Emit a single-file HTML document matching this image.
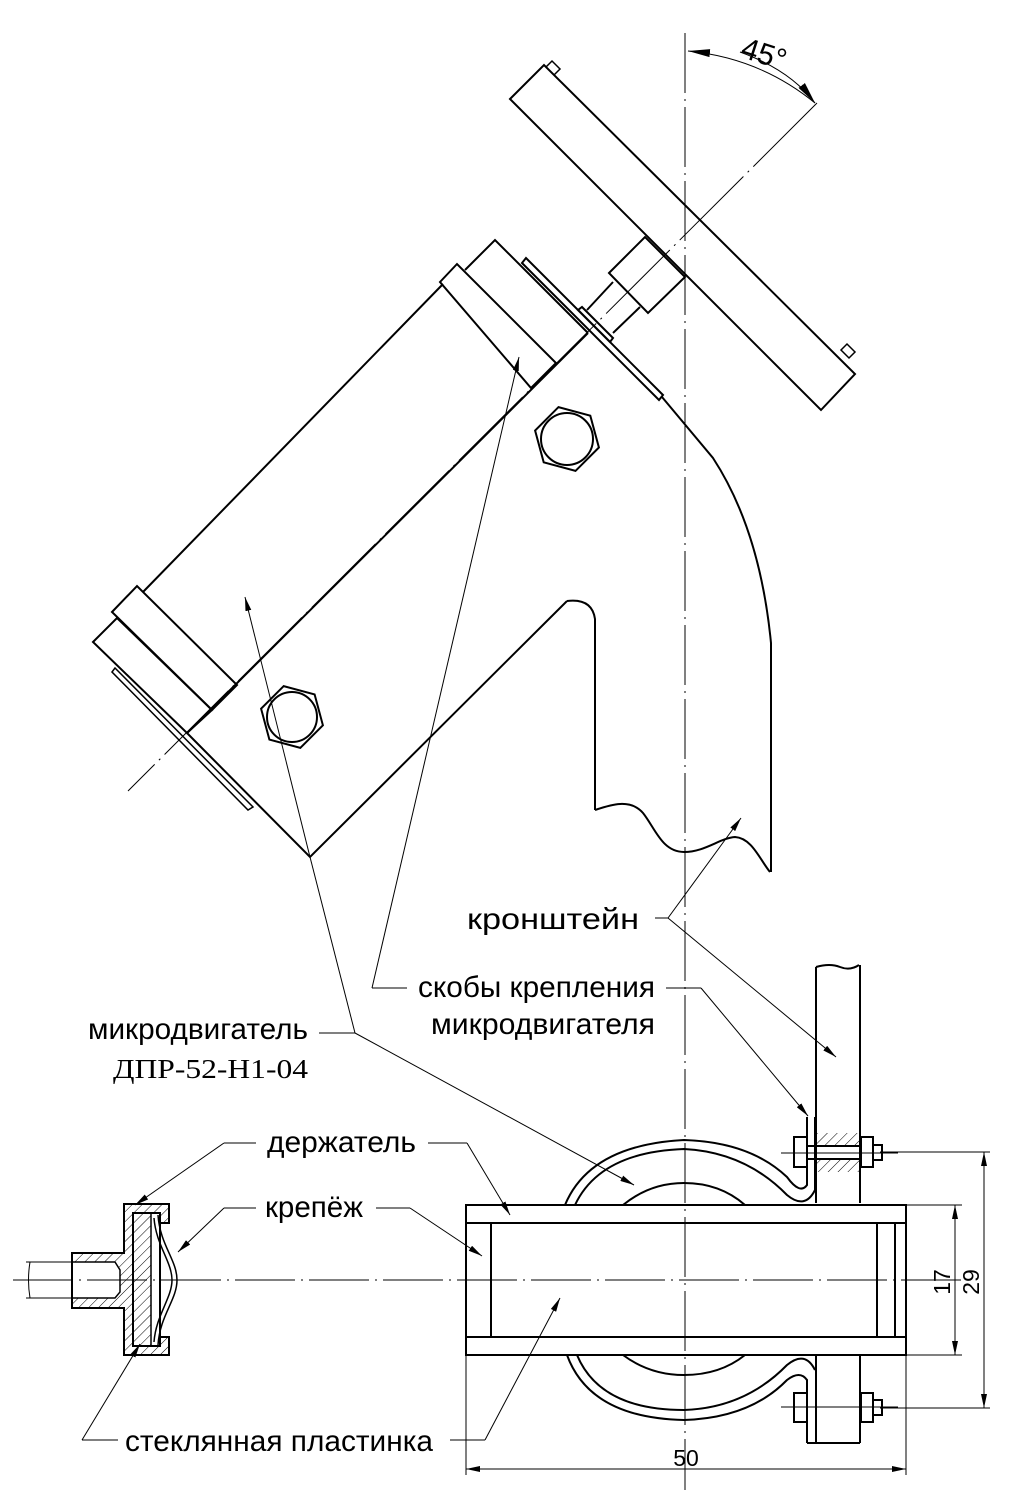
<!DOCTYPE html>
<html><head><meta charset="utf-8"><style>
html,body{margin:0;padding:0;background:#fff}
svg{display:block}
text{font-family:"Liberation Sans",sans-serif;fill:#000}
</style></head><body>
<svg width="1015" height="1501" viewBox="0 0 1015 1501" xmlns="http://www.w3.org/2000/svg">
<defs>
<marker id="ar" viewBox="0 0 14 6" refX="14" refY="3" markerWidth="14" markerHeight="6" markerUnits="userSpaceOnUse" orient="auto"><path d="M0,0 L14,3 L0,6 Z" fill="#000"/></marker>
<marker id="ar2" viewBox="0 0 22 8" refX="22" refY="4" markerWidth="22" markerHeight="8" markerUnits="userSpaceOnUse" orient="auto"><path d="M0,0 L22,4 L0,8 Z" fill="#000"/></marker>
<pattern id="h" patternUnits="userSpaceOnUse" width="7" height="7" patternTransform="rotate(45)"><line x1="0" y1="0" x2="0" y2="7" stroke="#000" stroke-width="1"/></pattern>
</defs>
<g fill="none" stroke="#000" stroke-linejoin="miter">
<line x1="685" y1="33" x2="685" y2="1490" stroke-width="1" stroke-dasharray="60,6,2,6"/>
<line x1="13" y1="1280" x2="965" y2="1280" stroke-width="1" stroke-dasharray="60,6,2,6"/>
<line x1="817" y1="103" x2="128" y2="791" stroke-width="1" stroke-dasharray="90,6,2,6"/>
<path d="M815,103 Q760,58 688,51" stroke-width="1" marker-end="url(#ar2)"/>
<path d="M740,52 Q790,70 815,103" stroke-width="1" marker-end="url(#ar2)"/>

<g stroke-width="2">
<polygon points="510,99 544,65 855,374 821,410"/>
<polygon points="546,67 552,61 560,69 554,75" stroke-width="1.5"/>
<polygon points="841,350 847,344 855,352 849,358" stroke-width="1.5"/>
<polygon points="609,273 645,237 685,277 648,313"/>
<polyline points="587,310 613,282"/>
<polyline points="613,333 640,307"/>
<polygon points="578,310 582,307 613,338 610,342"/>
<polygon points="522,263 526,258 663,395 659,400"/>
<polyline points="465,270 495,240 588,333"/>
<polygon points="440,282 457,264 556,363 531,388"/>
<line x1="443" y1="284" x2="143" y2="592"/>
<polygon points="112,612 137,586 237,685 212,710"/>
<polygon points="93,642 117,618 212,710 187,733"/>
<polygon points="112,672 115,668 253,807 248,810" stroke-width="1.5"/>
<line x1="588" y1="333" x2="187" y2="733"/>
<polyline points="187,733 310,857 567,601"/>
<path d="M567,601 Q592,598 595,619 L595,810"/>
<path d="M595,810 C610,805 630,798 643,813 C655,828 662,852 684,852 C705,852 720,838 735,837 C752,838 760,860 770,872"/>
<path d="M662,397 L713,458 Q760,530 771,643 L771,872"/>
<polygon points="598.9,447.5 575.5,470.9 543.7,462.3 535.1,430.5 558.5,407.1 590.3,415.7"/>
<circle cx="567" cy="439" r="26"/>
<polygon points="322.9,725.3 300.3,747.9 269.4,739.6 261.1,708.7 283.7,686.1 314.6,694.4"/>
<circle cx="292" cy="717" r="25"/>
</g>

<g stroke-width="1">
<line x1="310" y1="857" x2="245" y2="597" marker-end="url(#ar)"/>
<line x1="355" y1="1033" x2="310" y2="857"/>
<line x1="372" y1="988" x2="519" y2="357" marker-end="url(#ar)"/>
<line x1="372" y1="988" x2="407" y2="988"/>
<line x1="319" y1="1033" x2="355" y2="1033"/>
<line x1="355" y1="1033" x2="634" y2="1185" marker-end="url(#ar)"/>
<line x1="655" y1="918" x2="668" y2="918"/>
<line x1="668" y1="918" x2="741" y2="818" marker-end="url(#ar)"/>
<line x1="668" y1="918" x2="836" y2="1057" marker-end="url(#ar)"/>
<line x1="666" y1="988" x2="701" y2="988"/>
<line x1="701" y1="988" x2="808" y2="1116" marker-end="url(#ar)"/>
<line x1="224" y1="1143" x2="256" y2="1143"/>
<line x1="224" y1="1143" x2="135" y2="1205" marker-end="url(#ar)"/>
<line x1="428" y1="1143" x2="467" y2="1143"/>
<line x1="467" y1="1143" x2="510" y2="1215" marker-end="url(#ar)"/>
<line x1="224" y1="1208" x2="256" y2="1208"/>
<line x1="224" y1="1208" x2="178" y2="1252" marker-end="url(#ar)"/>
<line x1="376" y1="1208" x2="410" y2="1208"/>
<line x1="410" y1="1208" x2="482" y2="1256" marker-end="url(#ar)"/>
<line x1="82" y1="1440" x2="118" y2="1440"/>
<line x1="82" y1="1440" x2="140" y2="1344" marker-end="url(#ar)"/>
<line x1="450" y1="1440" x2="485" y2="1440"/>
<line x1="485" y1="1440" x2="560" y2="1298" marker-end="url(#ar)"/>
</g>

<path d="M124,1204 H169 V1223 H160 V1213 H133 V1346 H160 V1337 H169 V1355 H124 V1308 H72 V1253 H124 Z M72,1262 H115 L120,1270 V1292 L115,1298 H72 Z" fill="url(#h)" fill-rule="evenodd" stroke="none"/>
<rect x="133" y="1213" width="18" height="133" fill="url(#h)" stroke="none"/>
<g stroke-width="2">
<path d="M124,1204 H169 V1223 H160 V1337 H169 V1355 H124 V1308 H72 V1253 H124 Z"/>
<rect x="133" y="1213" width="27" height="133"/>
<line x1="151" y1="1213" x2="151" y2="1346" stroke-width="1.5"/>
<path d="M72,1262 H115 L120,1270 V1292 L115,1298 H72" stroke-width="1.5"/>
<path d="M158,1215 C160,1245 177,1260 177,1280 C177,1300 160,1315 158,1345" stroke-width="1.5"/>
<path d="M154,1218 C156,1245 172,1262 172,1280 C172,1298 156,1315 154,1342" stroke-width="1.5"/>
</g>
<g stroke-width="1">
<line x1="26" y1="1262" x2="72" y2="1262"/>
<line x1="26" y1="1298" x2="72" y2="1298"/>
<path d="M30,1262 Q27,1280 30,1298"/>
</g>

<g stroke-width="2">
<rect x="466" y="1205" width="440" height="150"/>
<line x1="466" y1="1223" x2="906" y2="1223"/>
<line x1="466" y1="1337" x2="906" y2="1337"/>
<line x1="491" y1="1223" x2="491" y2="1337"/>
<line x1="877" y1="1223" x2="877" y2="1337"/>
<line x1="895" y1="1223" x2="895" y2="1337"/>
<path d="M565,1205 Q590,1145 684,1140 Q750,1142 787,1177 Q800,1195 807,1185 V1117"/>
<path d="M575,1205 Q600,1152 684,1149 Q745,1152 787,1195 Q805,1210 815,1190 V1117"/>
<path d="M623,1205 Q650,1183 684,1183 Q720,1183 745,1205"/>
<path d="M567,1355 Q590,1418 684,1420 Q750,1418 787,1380 Q800,1370 807,1380 V1443"/>
<path d="M577,1355 Q600,1410 684,1410 Q745,1408 787,1365 Q805,1350 815,1370"/>
<path d="M623,1355 Q650,1375 684,1375 Q720,1375 745,1355"/>
<path d="M816,967 Q830,963 840,967 T859,965"/>
<line x1="816" y1="967" x2="816" y2="1203"/>
<line x1="860" y1="965" x2="860" y2="1203"/>
<line x1="816" y1="1356" x2="816" y2="1443"/>
<line x1="860" y1="1356" x2="860" y2="1443"/>
<line x1="807" y1="1443" x2="860" y2="1443"/>
<rect x="794" y="1137" width="13" height="30"/>
<rect x="861" y="1137" width="12" height="30"/>
<rect x="873" y="1145" width="9" height="15"/>
<line x1="807" y1="1146" x2="861" y2="1146"/>
<line x1="807" y1="1159" x2="861" y2="1159"/>
<rect x="794" y="1393" width="13" height="29"/>
<rect x="861" y="1393" width="12" height="29"/>
<rect x="873" y="1400" width="9" height="15"/>
</g>
<rect x="817" y="1133" width="43" height="13" fill="url(#h)" stroke="none"/>
<rect x="817" y="1159" width="43" height="13" fill="url(#h)" stroke="none"/>
<g stroke-width="1">
<line x1="781" y1="1153" x2="898" y2="1153"/>
<line x1="781" y1="1407" x2="898" y2="1407"/>
<line x1="906" y1="1205" x2="962" y2="1205"/>
<line x1="906" y1="1355" x2="962" y2="1355"/>
<line x1="880" y1="1152" x2="990" y2="1152"/>
<line x1="880" y1="1408" x2="990" y2="1408"/>
<line x1="955" y1="1280" x2="955" y2="1205" marker-end="url(#ar)"/>
<line x1="955" y1="1280" x2="955" y2="1355" marker-end="url(#ar)"/>
<line x1="984" y1="1280" x2="984" y2="1152" marker-end="url(#ar)"/>
<line x1="984" y1="1280" x2="984" y2="1408" marker-end="url(#ar)"/>
<line x1="466" y1="1355" x2="466" y2="1475"/>
<line x1="906" y1="1355" x2="906" y2="1475"/>
<line x1="686" y1="1469" x2="466" y2="1469" marker-end="url(#ar)"/>
<line x1="686" y1="1469" x2="906" y2="1469" marker-end="url(#ar)"/>
</g>
</g>

<text x="764" y="64" font-size="30" text-anchor="middle" transform="rotate(18 764 54)">45°</text>
<text x="467" y="929" font-size="30" textLength="172" lengthAdjust="spacingAndGlyphs">кронштейн</text>
<text x="418" y="997" font-size="30" textLength="237" lengthAdjust="spacingAndGlyphs">скобы крепления</text>
<text x="431" y="1034" font-size="30" textLength="224" lengthAdjust="spacingAndGlyphs">микродвигателя</text>
<text x="88" y="1039" font-size="30" textLength="220" lengthAdjust="spacingAndGlyphs">микродвигатель</text>
<text x="113" y="1078" font-size="27" style="font-family:'Liberation Serif',serif" textLength="195" lengthAdjust="spacingAndGlyphs">ДПР-52-Н1-04</text>
<text x="267" y="1152" font-size="30" textLength="149" lengthAdjust="spacingAndGlyphs">держатель</text>
<text x="265" y="1217" font-size="30" textLength="98" lengthAdjust="spacingAndGlyphs">крепёж</text>
<text x="125" y="1451" font-size="30" textLength="308" lengthAdjust="spacingAndGlyphs">стеклянная пластинка</text>
<text x="686" y="1466" font-size="23" text-anchor="middle">50</text>
<text font-size="23" text-anchor="middle" transform="translate(950 1282) rotate(-90)">17</text>
<text font-size="23" text-anchor="middle" transform="translate(979 1282) rotate(-90)">29</text>
</svg>
</body></html>
